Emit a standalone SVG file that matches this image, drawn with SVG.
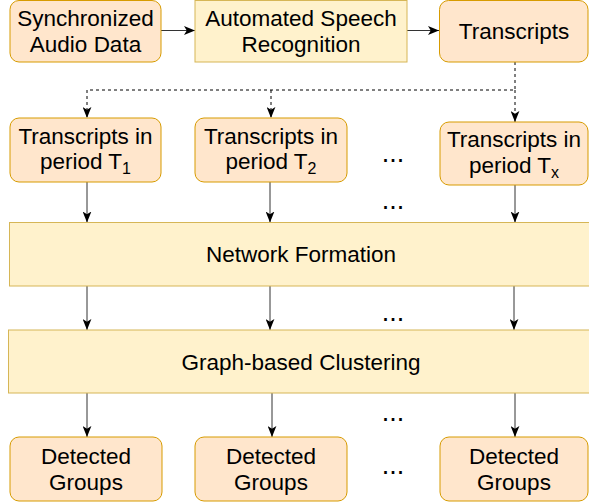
<svg xmlns="http://www.w3.org/2000/svg" width="589" height="503" viewBox="0 0 589 503">
<defs>
<style>
.o{fill:#ffe6cc;stroke:#d79b00;stroke-width:1}
.y{fill:#fff2cc;stroke:#d6b656;stroke-width:1}
text{font-family:"Liberation Sans",Arial,Helvetica,sans-serif;font-size:22.5px;fill:#000;text-anchor:middle}
.sub{font-size:16px}
.dt{font-size:27px}
.c{fill:none;stroke:#333;stroke-width:1}
.d{fill:none;stroke:#000;stroke-width:1;stroke-dasharray:3 3}
</style>
<marker id="a" viewBox="0 0 10 8" refX="10" refY="4" markerWidth="11" markerHeight="9" markerUnits="userSpaceOnUse" orient="auto">
<path d="M0,0 L10,4 L0,8 L2.5,4 Z" fill="#000"/>
</marker>
</defs>
<g id="connectors">
<path class="c" d="M161,30.5 H195" marker-end="url(#a)"/>
<path class="c" d="M407,30.5 H439" marker-end="url(#a)"/>
<path class="d" d="M515,62 V90 H87 V118" marker-end="url(#a)"/>
<path class="d" d="M271,90 V118" marker-end="url(#a)"/>
<path class="d" d="M515,90 V122" marker-end="url(#a)"/>
<path class="c" d="M87,182 V222.5" marker-end="url(#a)"/>
<path class="c" d="M270,182 V222.5" marker-end="url(#a)"/>
<path class="c" d="M515,185 V222.5" marker-end="url(#a)"/>
<path class="c" d="M87,286 V330" marker-end="url(#a)"/>
<path class="c" d="M270,286 V330" marker-end="url(#a)"/>
<path class="c" d="M514,286 V330" marker-end="url(#a)"/>
<path class="c" d="M87,393 V437" marker-end="url(#a)"/>
<path class="c" d="M272,393 V437" marker-end="url(#a)"/>
<path class="c" d="M515,393 V437" marker-end="url(#a)"/>
</g>
<g id="sync">
<rect class="o" x="10" y="0.5" width="151" height="61.5" rx="9"/>
<text x="85.5" y="26">Synchronized</text>
<text x="85.5" y="52">Audio Data</text>
</g>
<g id="asr">
<rect class="y" x="195" y="0.5" width="212" height="61.5"/>
<text x="301" y="26">Automated Speech</text>
<text x="301" y="52">Recognition</text>
</g>
<g id="transcripts">
<rect class="o" x="439.5" y="0.5" width="148.5" height="61.5" rx="9"/>
<text x="514" y="39">Transcripts</text>
</g>
<g id="t1">
<rect class="o" x="10" y="118" width="151" height="64" rx="9"/>
<text x="85.5" y="143.5">Transcripts in</text>
<text x="85.5" y="169">period T<tspan class="sub" dy="5">1</tspan></text>
</g>
<g id="t2">
<rect class="o" x="195" y="118" width="152" height="64" rx="9"/>
<text x="271" y="143.5">Transcripts in</text>
<text x="271" y="169">period T<tspan class="sub" dy="5">2</tspan></text>
</g>
<g id="tx">
<rect class="o" x="440" y="122" width="148" height="63" rx="9"/>
<text x="514" y="147">Transcripts in</text>
<text x="514" y="173">period T<tspan class="sub" dy="5">x</tspan></text>
</g>
<g id="network">
<rect class="y" x="9.5" y="222.5" width="585" height="63.5"/>
<text x="301" y="262">Network Formation</text>
</g>
<g id="clustering">
<rect class="y" x="8.5" y="330" width="586" height="63"/>
<text x="301" y="369.5">Graph-based Clustering</text>
</g>
<g id="g1">
<rect class="o" x="10" y="437" width="152" height="64" rx="9"/>
<text x="86" y="464">Detected</text>
<text x="86" y="490">Groups</text>
</g>
<g id="g2">
<rect class="o" x="195" y="437" width="152" height="64" rx="9"/>
<text x="271" y="464">Detected</text>
<text x="271" y="490">Groups</text>
</g>
<g id="gx">
<rect class="o" x="440" y="437" width="148" height="64" rx="9"/>
<text x="514" y="464">Detected</text>
<text x="514" y="490">Groups</text>
</g>
<g id="dots">
<text class="dt" x="393" y="162">...</text>
<text class="dt" x="393" y="209">...</text>
<text class="dt" x="393" y="321">...</text>
<text class="dt" x="393" y="421">...</text>
<text class="dt" x="393" y="474">...</text>
</g>
</svg>
